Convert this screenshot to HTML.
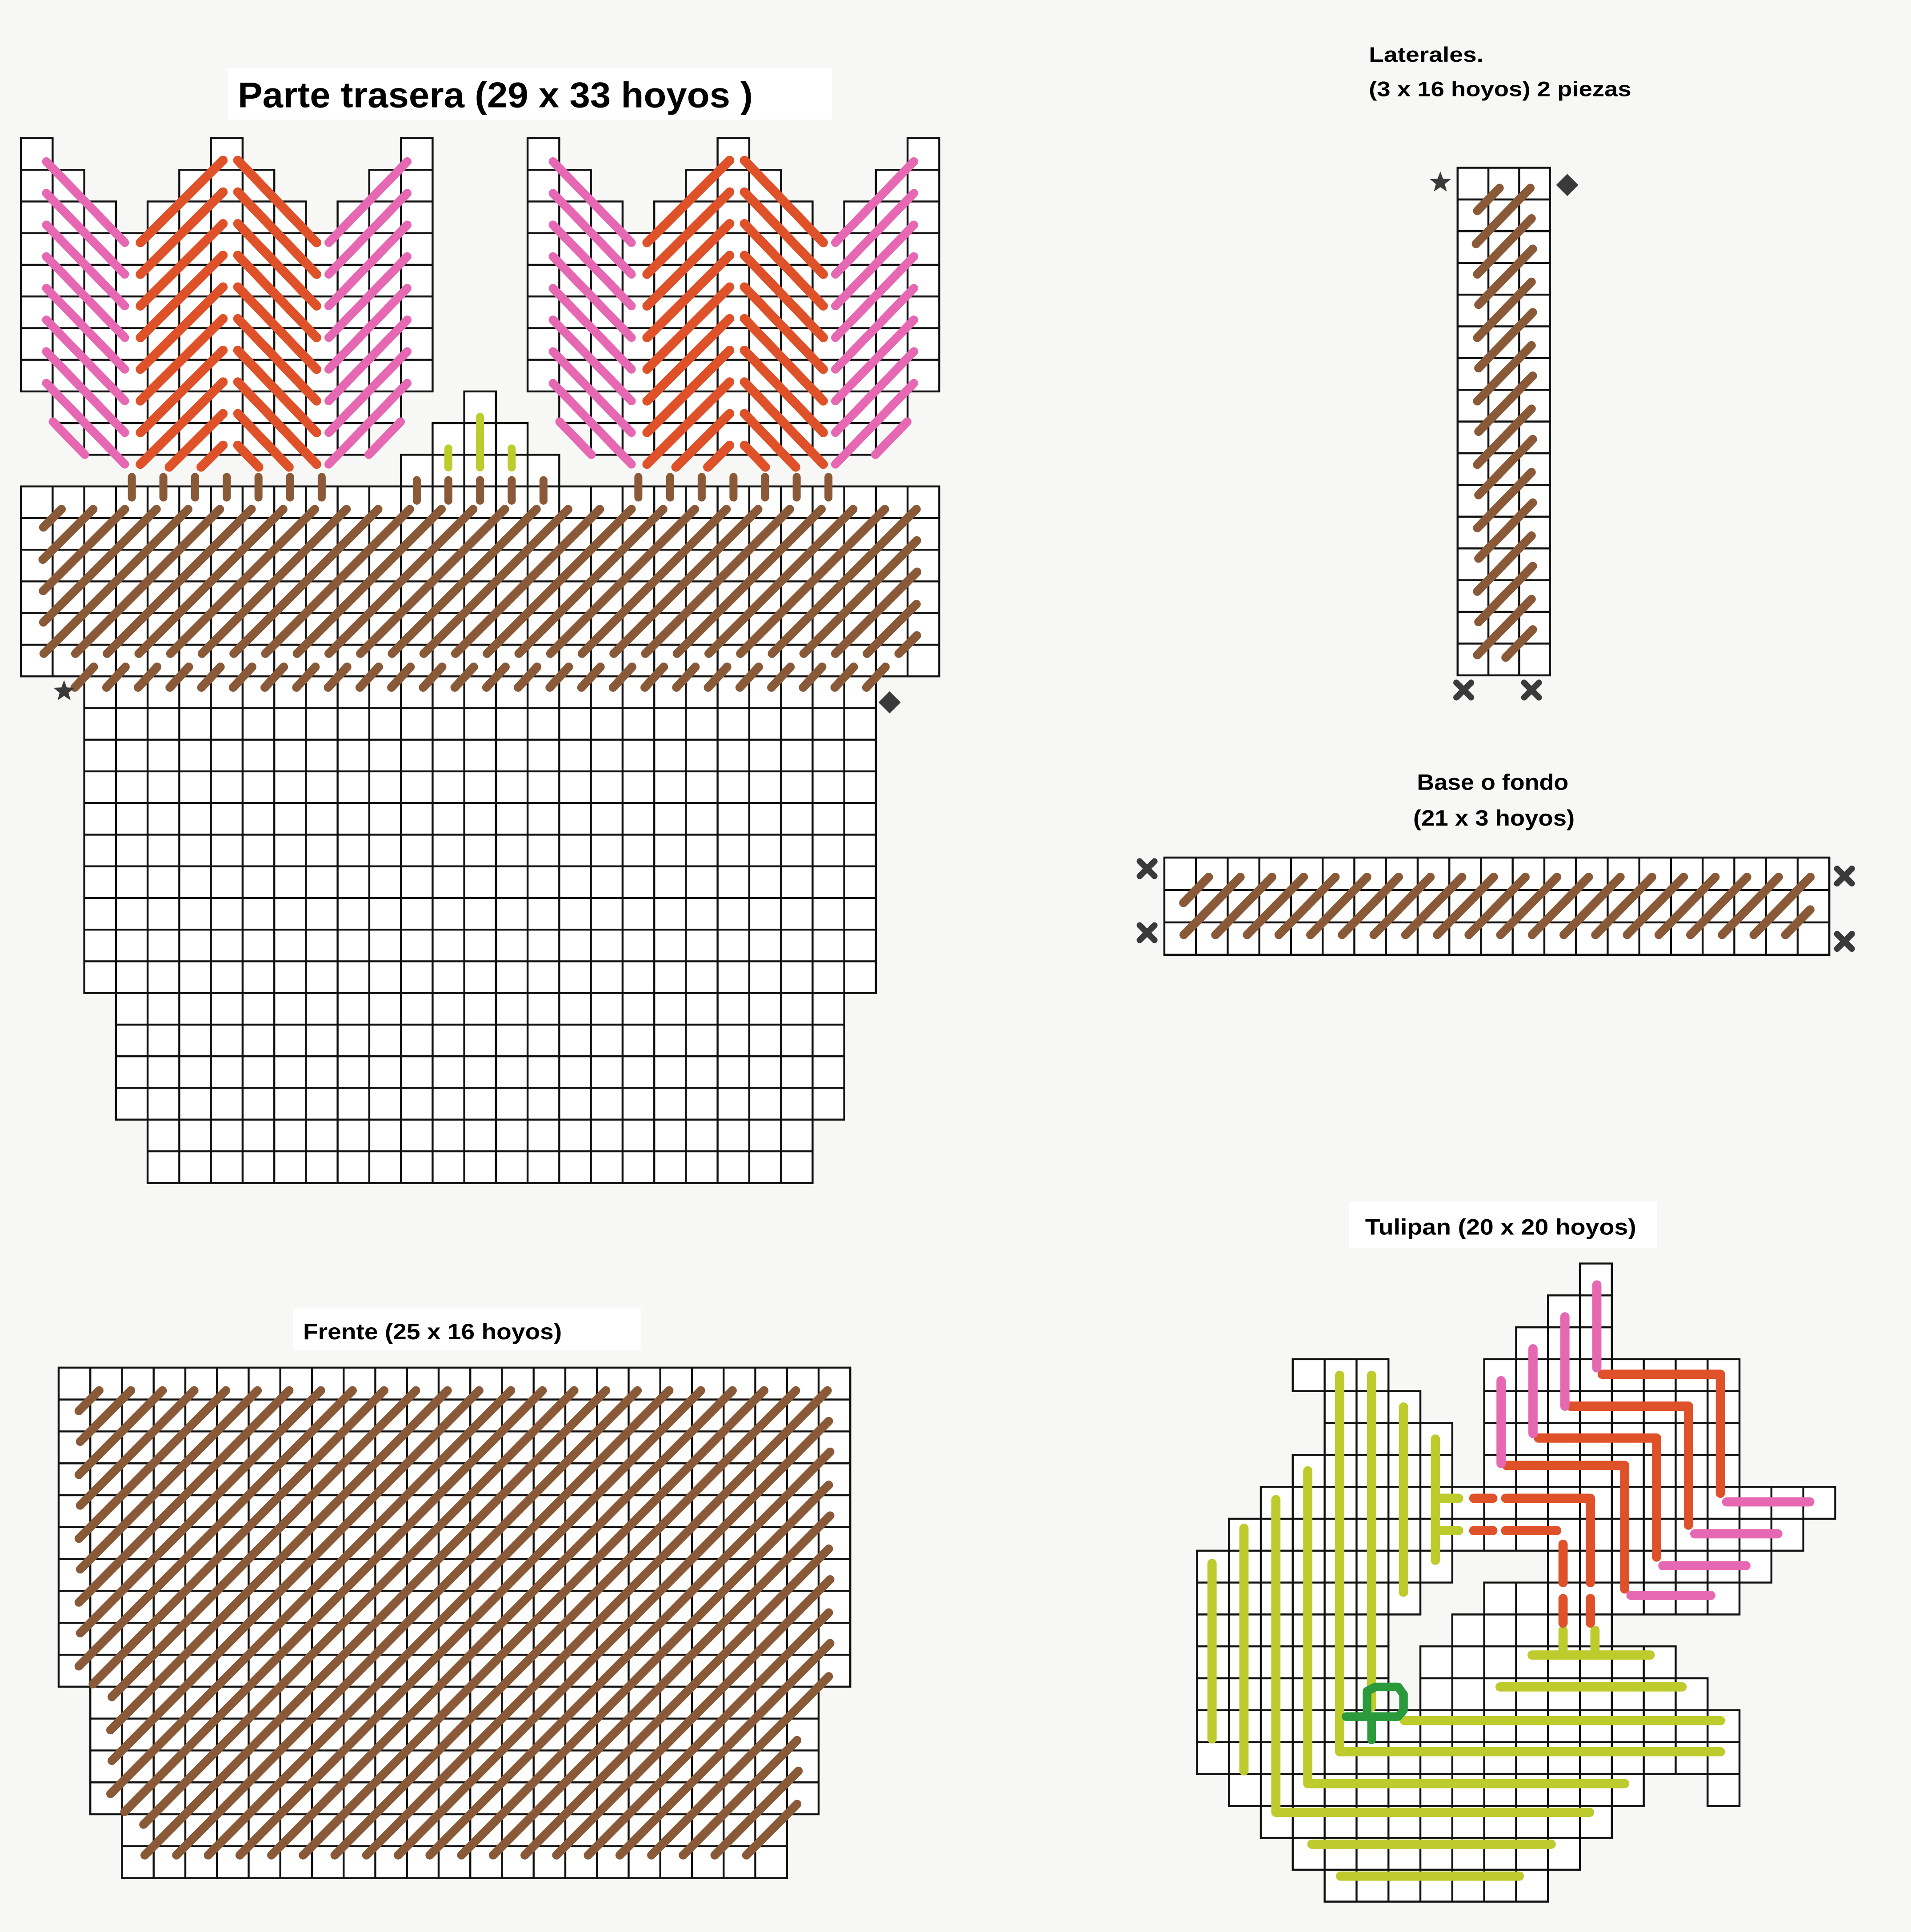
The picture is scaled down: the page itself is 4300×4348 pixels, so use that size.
<!DOCTYPE html>
<html><head><meta charset="utf-8"><style>html,body{margin:0;padding:0;background:#f7f7f5}svg{display:block}</style></head>
<body>
<svg id="s" xmlns="http://www.w3.org/2000/svg" width="4300" height="4348" viewBox="0 0 1551 1568">
<rect width="1551" height="1568" fill="#f7f7f5"/>
<rect x="185" y="55" width="490" height="42" fill="#fff"/>
<rect x="1095" y="975" width="250" height="38" fill="#fff"/>
<rect x="238" y="1062" width="282" height="34" fill="#fff"/>
<g font-family="Liberation Sans, Arial, sans-serif" font-weight="bold" fill="#000">
<text x="193" y="87" font-size="29" textLength="418" lengthAdjust="spacingAndGlyphs">Parte trasera (29 x 33 hoyos )</text>
<text x="1111" y="50" font-size="17" textLength="93" lengthAdjust="spacingAndGlyphs">Laterales.</text>
<text x="1111" y="78" font-size="17" textLength="213" lengthAdjust="spacingAndGlyphs">(3 x 16 hoyos) 2 piezas</text>
<text x="1150" y="641" font-size="18" textLength="123" lengthAdjust="spacingAndGlyphs">Base o fondo</text>
<text x="1147" y="670" font-size="18" textLength="131" lengthAdjust="spacingAndGlyphs">(21 x 3 hoyos)</text>
<text x="1108" y="1002" font-size="18" textLength="220" lengthAdjust="spacingAndGlyphs">Tulipan (20 x 20 hoyos)</text>
<text x="246" y="1087" font-size="18" textLength="210" lengthAdjust="spacingAndGlyphs">Frente (25 x 16 hoyos)</text>
</g>
<g id="g"></g>
<g id="st" stroke-linecap="round" stroke-linejoin="round" fill="none"></g>
<g id="mk" fill="#3a3a3a" stroke="#3a3a3a"></g>
</svg>
<script>
const NS='http://www.w3.org/2000/svg';
const G=document.getElementById('g'),ST=document.getElementById('st'),MK=document.getElementById('mk');
function add(p,t,a){const e=document.createElementNS(NS,t);for(const k in a)e.setAttribute(k,a[k]);p.appendChild(e);return e;}
function cells(ox,oy,cw,ch,rows){let d='';rows.forEach(([r,a,b])=>{for(let c=a;c<=b;c++){d+='M'+(ox+c*cw).toFixed(1)+' '+(oy+r*ch).toFixed(1)+'h'+cw+'v'+ch+'h'+(-cw)+'z';}});add(G,'path',{d:d,fill:'#fff',stroke:'#111','stroke-width':1.6});}
function pl(pts,col,w){return add(ST,'path',{d:'M'+pts.map(p=>p[0].toFixed(1)+' '+p[1].toFixed(1)).join('L'),stroke:col,'stroke-width':w});}
// generic: clip segment p1->p2 (cell coords) by inside fn, draw mapped via M
function seg(p1,p2,inside,M,col,w){let f=-1,l=-1;const N=200;for(let k=0;k<=N;k++){const t=k/N,x=p1[0]+(p2[0]-p1[0])*t,y=p1[1]+(p2[1]-p1[1])*t;if(inside(x,y)){if(f<0)f=t;l=t;}}if(f<0||l-f<0.02)return;const P=t=>M(p1[0]+(p2[0]-p1[0])*t,p1[1]+(p2[1]-p1[1])*t);pl([P(f),P(l)],col,w);}
const BR='#8a5a38',PK='#e668b3',OR='#df5129',LM='#bdcb2c',DG='#2a9a3c';
// ---------- Parte trasera ----------
const c=25.7,X=i=>17+c*i,Y=j=>112+c*j,MT=(x,y)=>[X(x),Y(y)];
const tcols=[[0,7],[1,8],[2,9],[3,9],[2,9],[1,9],[0,9],[1,9],[2,9],[3,9],[2,9],[1,8],[0,7]];
let rows=[];
[0,16].forEach(off=>{tcols.forEach(([a,b],i)=>{for(let r=a;r<=b;r++)rows.push([r,off+i,off+i]);});});
rows.push([8,14,14],[9,13,15],[10,12,16]);
for(let r=11;r<=16;r++)rows.push([r,0,28]);
for(let r=17;r<=26;r++)rows.push([r,2,26]);
for(let r=27;r<=30;r++)rows.push([r,3,25]);
for(let r=31;r<=32;r++)rows.push([r,4,24]);
cells(17,112,c,c,rows);
[0,16].forEach(off=>{
 const inT=(x,y)=>{const cc=Math.floor(x-off);if(cc<0||cc>12)return false;const [a,b]=tcols[cc];const bot=(cc>=3&&cc<=9)?10.4:b+1;return y>=a-0.05&&y<=bot;};
 for(let k=0;k<=9;k++){
  seg([off+0.8,k+0.74],[off+3.28,k+3.3],inT,MT,PK,7);
  seg([off+12.2,k+0.74],[off+9.72,k+3.3],inT,MT,PK,7);
  seg([off+6.38,k+0.7],[off+3.77,k+3.3],inT,MT,OR,7.5);
  seg([off+6.85,k+0.7],[off+9.34,k+3.3],inT,MT,OR,7.5);
 }
 for(let i=3;i<=9;i++)pl([[X(off+i+0.5),Y(10.7)],[X(off+i+0.5),Y(11.35)]],BR,6.5);
});
for(let i=12;i<=16;i++)pl([[X(i+0.5),Y(10.8)],[X(i+0.5),Y(11.45)]],BR,6.5);
pl([[X(14.5),Y(8.8)],[X(14.5),Y(10.4)]],LM,6.5);
pl([[X(13.5),Y(9.8)],[X(13.5),Y(10.4)]],LM,6.5);
pl([[X(15.5),Y(9.8)],[X(15.5),Y(10.4)]],LM,6.5);
// band diagonals
const inBand=(x,y)=>x>=0.68&&x<=28.3&&y>=11.7&&y<=16.3;
for(let n=12;n<=46;n++)seg([n-11,11],[n-17,17],inBand,MT,BR,7);
for(let i=2;i<=27;i++)pl([[X(i-0.3),Y(17.35)],[X(i+0.3),Y(16.7)]],BR,7);
// marks
function star(cx,cy,r){let p=[];for(let k=0;k<10;k++){const a=-Math.PI/2+k*Math.PI/5,rr=k%2?r*0.42:r;p.push((cx+rr*Math.cos(a)).toFixed(1)+','+(cy+rr*Math.sin(a)).toFixed(1));}add(MK,'polygon',{points:p.join(' '),stroke:'none'});}
function dia(cx,cy,r){add(MK,'polygon',{points:`${cx},${cy-r} ${cx+r},${cy} ${cx},${cy+r} ${cx-r},${cy}`,stroke:'none'});}
function xm(cx,cy,r){add(MK,'path',{d:`M${cx-r} ${cy-r}L${cx+r} ${cy+r}M${cx+r} ${cy-r}L${cx-r} ${cy+r}`,'stroke-width':5,'stroke-linecap':'round',fill:'none'});}
star(52,561,9);dia(722,570,9);
// ---------- Laterales ----------
const lr=[];for(let r=0;r<16;r++)lr.push([r,0,2]);
cells(1183,136,25,25.75,lr);
const ML=(x,y)=>[1183+25*x,136+25.75*y];
const inL=(x,y)=>x>=0.6&&x<=2.45&&y>=0.6&&y<=15.45;
for(let n=1;n<=19;n++)seg([n,0],[n-16,16],inL,ML,BR,7);
star(1169,148,9);dia(1272,150,9);xm(1188,560,6);xm(1243,560,6);
// ---------- Base ----------
cells(945,696,25.7,26.3,[[0,0,20],[1,0,20],[2,0,20]]);
const MB=(x,y)=>[945+25.7*x,696+26.3*y];
const inB=(x,y)=>x>=0.6&&x<=20.4&&y>=0.6&&y<=2.4;
for(let n=1;n<=24;n++)seg([n,0],[n-3,3],inB,MB,BR,7);
xm(931,705,6);xm(931,757,6);xm(1497,711,6);xm(1497,764,6);
// ---------- Frente ----------
const fx=47.6,fy=1110,fw=25.7,fh=25.9,MF=(x,y)=>[fx+fw*x,fy+fh*y];
const fr=[];for(let r=0;r<10;r++)fr.push([r,0,24]);for(let r=10;r<14;r++)fr.push([r,1,23]);for(let r=14;r<16;r++)fr.push([r,2,22]);
cells(fx,fy,fw,fh,fr);
const inF=(x,y)=>{if(y<0.68||y>15.3)return false;if(y<10)return x>=0.62&&x<=24.38;if(y<14)return x>=1.62&&x<=23.38;return x>=2.62&&x<=22.38;};
for(let n=1;n<=41;n++)seg([n,0],[n-16,16],inF,MF,BR,7);
// ---------- Tulipan ----------
const tw=25.9,P=(x,y)=>[971.5+tw*x,1025.5+tw*y];
const tr=[[0,12,12],[1,11,12],[2,10,12],[3,3,5],[3,9,16],[4,4,6],[4,9,16],[5,4,7],[5,9,16],[6,3,7],[6,9,16],[7,2,19],[8,1,18],[9,0,7],[9,11,17],[10,0,6],[10,9,16],[11,0,5],[11,8,12],[12,0,5],[12,7,14],[13,0,5],[13,7,15],[14,0,16],[15,0,16],[16,1,13],[16,16,16],[17,2,12],[18,3,11],[19,4,10]];
cells(971.5,1025.5,tw,tw,tr);
const L=(pts,col,w)=>pl(pts.map(p=>P(p[0],p[1])),col,w||7.5);
L([[0.47,9.4],[0.47,14.9]],LM);L([[1.47,8.3],[1.47,15.9]],LM);
L([[2.47,7.4],[2.47,17.2],[12.3,17.2]],LM);
L([[3.47,6.5],[3.47,16.3],[13.4,16.3]],LM);
L([[4.47,3.5],[4.47,15.3],[16.4,15.3]],LM);
L([[5.47,3.5],[5.47,13.9]],LM);L([[6.47,4.5],[6.47,10.3]],LM);L([[7.47,5.5],[7.47,9.3]],LM);
L([[7.47,7.36],[8.2,7.36]],LM);L([[7.47,8.37],[8.2,8.37]],LM);
L([[10.5,12.27],[14.2,12.27]],LM);L([[11.47,11.5],[11.47,12.27]],LM);L([[12.47,11.5],[12.47,12.27]],LM);
L([[9.5,13.27],[15.2,13.27]],LM);L([[6.5,14.33],[16.4,14.33]],LM);
L([[3.6,18.2],[11.1,18.2]],LM);L([[4.5,19.2],[10.1,19.2]],LM);
L([[5.33,14.2],[5.33,13.4],[5.6,13.27],[6.3,13.27],[6.47,13.5],[6.47,14.0],[6.3,14.2],[4.67,14.2]],DG,7);
L([[5.47,14.2],[5.47,14.93]],DG,7);
L([[12.7,3.47],[16.4,3.47],[16.4,7.2]],OR);
L([[11.7,4.47],[15.4,4.47],[15.4,8.2]],OR);
L([[10.7,5.47],[14.4,5.47],[14.4,9.2]],OR);
L([[9.7,6.33],[13.4,6.33],[13.4,10.2]],OR);
L([[8.67,7.36],[9.27,7.36]],OR);L([[9.67,7.36],[12.33,7.36],[12.33,10.0]],OR);L([[12.33,10.5],[12.33,11.27]],OR);
L([[8.67,8.37],[9.27,8.37]],OR);L([[9.67,8.37],[11.27,8.37]],OR);L([[11.47,8.8],[11.47,10.0]],OR);L([[11.47,10.5],[11.47,11.27]],OR);
L([[12.53,0.67],[12.53,3.27]],PK);L([[11.53,1.67],[11.53,4.47]],PK);L([[10.53,2.67],[10.53,5.33]],PK);L([[9.53,3.67],[9.53,6.27]],PK);
L([[16.6,7.47],[19.2,7.47]],PK);L([[15.6,8.47],[18.2,8.47]],PK);L([[14.6,9.47],[17.2,9.47]],PK);L([[13.6,10.4],[16.1,10.4]],PK);
</script>
</body></html>
